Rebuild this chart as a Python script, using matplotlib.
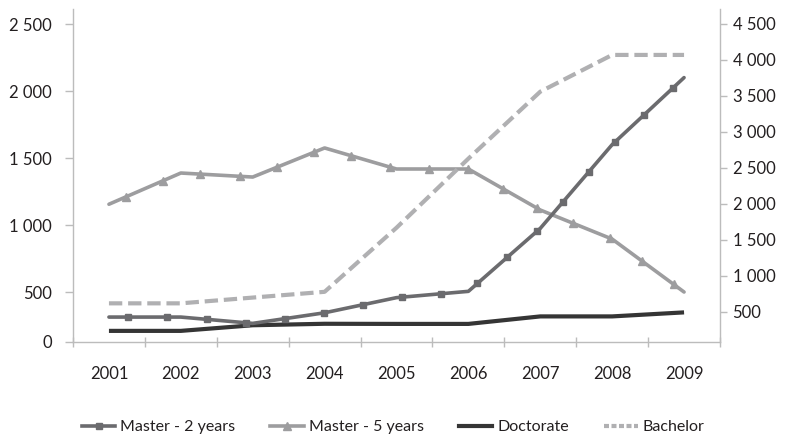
import numpy as np
import matplotlib
matplotlib.use("Agg")
import matplotlib.pyplot as plt
from matplotlib.lines import Line2D

# ---- data -------------------------------------------------------------
years = ["2001", "2002", "2003", "2004", "2005", "2006", "2007", "2008", "2009"]
master_2y = [313, 313, 266, 345, 458, 505, 975, 1600, 2100]
master_5y = [1155, 1388, 1358, 1575, 1418, 1418, 1112, 895, 500]
doctorate = [210, 210, 252, 263, 262, 262, 318, 318, 348]
bachelor = [620, 620, 700, 780, 1670, 2630, 3560, 4070, 4070]   # right axis

left_ticks = [500, 1000, 1500, 2000, 2500]
right_ticks = [500, 1000, 1500, 2000, 2500, 3000, 3500, 4000, 4500]

# ---- style ------------------------------------------------------------
plt.rcParams["font.family"] = ["Lato", "DejaVu Sans"]
c_m2 = "#6b6b6e"
c_m5 = "#9d9d9f"
c_doc = "#353535"
c_bach = "#b0b0b2"
c_axis = "#bcbcbc"
c_text = "#231f20"

fig = plt.figure(figsize=(7.86, 4.37), dpi=100)
ax = fig.add_axes([73 / 786, 95 / 437, 647 / 786, 333 / 437])
ax2 = ax.twinx()

x = np.arange(len(years))


def path_points(xs, ys, n=300):
    """Dense copy of a polyline, used only to place markers along it."""
    px, py = [], []
    for i in range(len(xs) - 1):
        t = np.linspace(0, 1, n, endpoint=False)
        px.append(xs[i] + (xs[i + 1] - xs[i]) * t)
        py.append(ys[i] + (ys[i + 1] - ys[i]) * t)
    px.append([xs[-1]])
    py.append([ys[-1]])
    return np.concatenate(px), np.concatenate(py)


lw = 2.6
mark_every = (0.026, 0.0543)

# Master - 5 years
ax.plot(x, master_5y, color=c_m5, lw=lw, solid_capstyle="round",
        solid_joinstyle="round", zorder=3)
mx, my = path_points(x, master_5y)
ax.plot(mx, my, ls="none", marker="^", ms=6, color=c_m5,
        markevery=mark_every, zorder=3)

# Doctorate
ax.plot(x, doctorate, color=c_doc, lw=3.0, solid_capstyle="butt",
        solid_joinstyle="round", zorder=4)

# Master - 2 years
ax.plot(x, master_2y, color=c_m2, lw=lw, solid_capstyle="round",
        solid_joinstyle="round", zorder=5)
mx, my = path_points(x, master_2y)
ax.plot(mx, my, ls="none", marker="s", ms=5, color=c_m2,
        markevery=mark_every, zorder=5)

# Bachelor (right axis)
bl, = ax2.plot(x, bachelor, color=c_bach, lw=3.0, solid_joinstyle="round",
               zorder=3)
bl.set_dashes((3.2, 1.4))

# ---- axes -------------------------------------------------------------
ax.set_xlim(-0.5, len(years) - 0.5)
ax.set_ylim(127, 2612)
ax2.set_ylim(83, 4708)


def fmt(v):
    return f"{v:,}".replace(",", " ")


ax.set_yticks([127] + left_ticks)
ax.set_yticklabels(["0"] + [fmt(v) for v in left_ticks])
ax2.set_yticks(right_ticks)
ax2.set_yticklabels([fmt(v) for v in right_ticks])

ax.set_xticks(x)
ax.set_xticklabels(years)
ax.set_xticks(np.arange(len(years) + 1) - 0.5, minor=True)
ax.tick_params(axis="x", which="major", length=0, pad=17, labelsize=12,
               labelcolor=c_text)
ax.tick_params(axis="x", which="minor", direction="inout", length=7,
               width=1, color=c_axis)
ax.tick_params(axis="y", length=6, width=1, color=c_axis, pad=9,
               labelsize=12, labelcolor=c_text)
ax2.tick_params(axis="y", length=5, width=1, color=c_axis, pad=4,
                labelsize=12, labelcolor=c_text)

for a in (ax, ax2):
    a.spines["top"].set_visible(False)
    for s in ("left", "right", "bottom"):
        a.spines[s].set_color(c_axis)
        a.spines[s].set_linewidth(1)
ax.spines["right"].set_visible(False)
ax2.spines["left"].set_visible(False)
ax2.spines["bottom"].set_visible(False)

# ---- legend -----------------------------------------------------------
handles = [
    Line2D([], [], color=c_m2, lw=lw, marker="s", ms=5),
    Line2D([], [], color=c_m5, lw=lw, marker="^", ms=6),
    Line2D([], [], color=c_doc, lw=3.0),
    Line2D([], [], color=c_bach, lw=3.0, dashes=(1.2, 0.6)),
]
labels = ["Master - 2 years", "Master - 5 years", "Doctorate", "Bachelor"]
leg = fig.legend(handles, labels, loc="center", bbox_to_anchor=(0.5, 10 / 437 * 1.0 + 0.0),
                 ncol=4, frameon=False, fontsize=11.5, handlelength=2.1,
                 handletextpad=0.3, columnspacing=2.2, numpoints=1,
                 labelcolor=c_text)

fig.savefig("out.png", dpi=100)
